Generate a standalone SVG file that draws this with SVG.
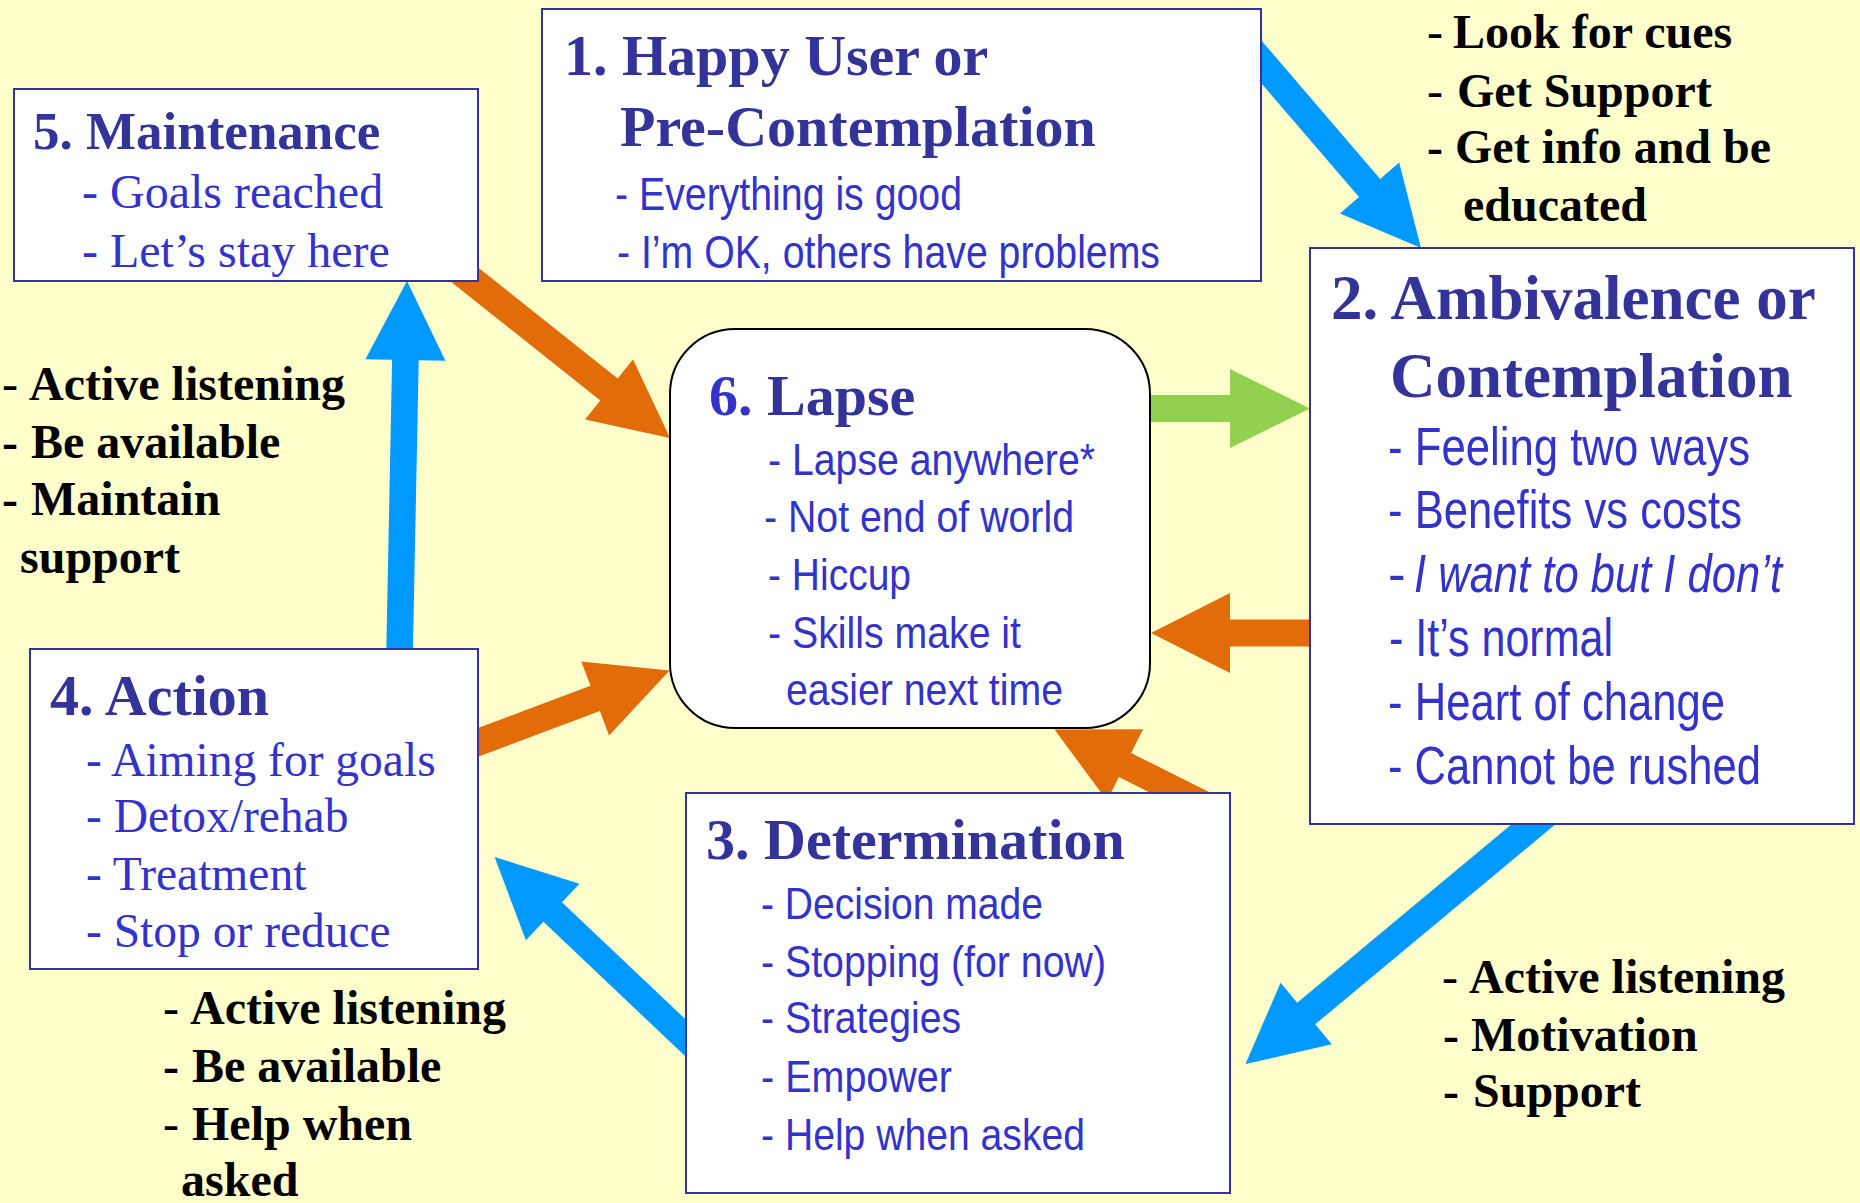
<svg xmlns="http://www.w3.org/2000/svg" width="1860" height="1203" viewBox="0 0 1860 1203">
<style>
.bg{fill:#FFFFCC}
.box{fill:#FFFFFF;stroke:#333399;stroke-width:2}
.lapse{fill:#FFFFFF;stroke:#000000;stroke-width:2}
.title{font-family:"Liberation Serif","Times New Roman",serif;font-weight:bold;fill:#333399}
.item{font-family:"Liberation Serif","Times New Roman",serif;fill:#3333CC}
.sans{font-family:"Liberation Sans",Arial,sans-serif;fill:#3333CC}
.note{font-family:"Liberation Serif","Times New Roman",serif;font-weight:bold;font-size:48px;fill:#000000}
.thin{font-weight:normal}
.blue{fill:#0099FF}
.orange{fill:#E36C0A}
.green{fill:#92D050}
</style>
<rect class="bg" x="0" y="0" width="1860" height="1203"/>

<!-- block arrows between the stages (drawn first so the boxes sit on top) -->
<g id="connectors">
  <polygon id="a1to2" class="blue" points="1229.4,46.1 1359,197.1 1340,213.4 1421,248 1399.2,162.6 1380.2,178.9 1250.6,27.9"/>
  <polygon id="a2to3" class="blue" points="1544,797.2 1297.2,1002.7 1280.6,982.8 1245.5,1064 1331.8,1044.2 1315.2,1024.3 1562,818.8"/>
  <polygon id="a3to4" class="blue" points="721.3,1053.2 562,902.2 579.5,883.7 494.6,857 525.9,940.3 543.4,921.8 702.7,1072.8"/>
  <polygon id="a4to5" class="blue" points="412.3,680.3 418.7,360.3 445.4,360.8 407,281 365.4,359.2 392.1,359.7 385.7,679.7"/>
  <polygon id="a5to6" class="orange" points="403,243.6 600.3,400.4 585,419.5 670,438 633,359.3 617.7,378.4 420.4,221.6"/>
  <polygon id="a4to6" class="orange" points="458.9,763.9 599.9,711 609.1,735.4 669.6,670.5 581.3,661.4 590.5,685.8 449.5,738.7"/>
  <polygon id="a3to6" class="orange" points="1224,799.6 1131.1,752.9 1143,729.3 1054.5,729.5 1107,800.7 1118.9,777.1 1211.8,823.8"/>
  <polygon id="a2to6" class="orange" points="1340,619.5 1230,619.5 1230,593 1151,633 1230,673 1230,646.5 1340,646.5"/>
  <polygon id="a6to2" class="green" points="1120,395 1230,395 1230,369 1310,408.5 1230,448 1230,422 1120,422"/>
</g>

<!-- stage 1 -->
<g id="stage1">
  <rect class="box" x="542" y="9" width="719" height="272"/>
  <text class="title" font-size="58" x="564" y="75">1. Happy User or</text>
  <text class="title" font-size="58" x="620" y="146">Pre-Contemplation</text>
  <text class="sans" font-size="46" x="615" y="210" textLength="347" lengthAdjust="spacingAndGlyphs">- Everything is good</text>
  <text class="sans" font-size="46" x="617" y="268" textLength="543" lengthAdjust="spacingAndGlyphs">- I’m OK, others have problems</text>
</g>

<!-- stage 2 -->
<g id="stage2">
  <rect class="box" x="1310" y="248" width="544" height="576"/>
  <text class="title" font-size="63" x="1331" y="319">2. Ambivalence or</text>
  <text class="title" font-size="63" x="1390" y="397">Contemplation</text>
  <text class="sans" font-size="53" x="1388" y="465" textLength="362" lengthAdjust="spacingAndGlyphs">- Feeling two ways</text>
  <text class="sans" font-size="53" x="1388" y="528" textLength="354" lengthAdjust="spacingAndGlyphs">- Benefits vs costs</text>
  <text class="sans" font-size="53" x="1388" y="592">-</text>
  <text class="sans" font-size="53" x="1414" y="592" font-style="italic" textLength="368" lengthAdjust="spacingAndGlyphs">I want to but I don’t</text>
  <text class="sans" font-size="53" x="1389" y="656" textLength="224" lengthAdjust="spacingAndGlyphs">- It’s normal</text>
  <text class="sans" font-size="53" x="1388" y="720" textLength="337" lengthAdjust="spacingAndGlyphs">- Heart of change</text>
  <text class="sans" font-size="53" x="1388" y="784" textLength="373" lengthAdjust="spacingAndGlyphs">- Cannot be rushed</text>
</g>

<!-- stage 3 -->
<g id="stage3">
  <rect class="box" x="686" y="793" width="544" height="400"/>
  <text class="title" font-size="58" x="706" y="859">3. Determination</text>
  <text class="sans" font-size="45" x="761" y="919" textLength="282" lengthAdjust="spacingAndGlyphs">- Decision made</text>
  <text class="sans" font-size="45" x="761" y="977" textLength="345" lengthAdjust="spacingAndGlyphs">- Stopping (for now)</text>
  <text class="sans" font-size="45" x="761" y="1033" textLength="200" lengthAdjust="spacingAndGlyphs">- Strategies</text>
  <text class="sans" font-size="45" x="761" y="1092" textLength="191" lengthAdjust="spacingAndGlyphs">- Empower</text>
  <text class="sans" font-size="45" x="761" y="1150" textLength="324" lengthAdjust="spacingAndGlyphs">- Help when asked</text>
</g>

<!-- stage 4 -->
<g id="stage4">
  <rect class="box" x="30" y="649" width="448" height="320"/>
  <text class="title" font-size="58" x="50" y="715">4. Action</text>
  <text class="item" font-size="47.5" x="86" y="776">- Aiming for goals</text>
  <text class="item" font-size="47.5" x="86" y="832">- Detox/rehab</text>
  <text class="item" font-size="47.5" x="86" y="890">- Treatment</text>
  <text class="item" font-size="47.5" x="86" y="947">- Stop or reduce</text>
</g>

<!-- stage 5 -->
<g id="stage5">
  <rect class="box" x="14" y="89" width="464" height="192"/>
  <text class="title" font-size="53" x="33" y="149">5. Maintenance</text>
  <text class="item" font-size="48" x="82" y="208">- Goals reached</text>
  <text class="item" font-size="48" x="82" y="267">- Let’s stay here</text>
</g>

<!-- stage 6 -->
<g id="stage6">
  <rect class="lapse" x="670" y="329" width="480" height="399" rx="65" ry="65"/>
  <text class="title" font-size="58" x="709" y="415"><tspan fill="#3333CC">6.</tspan> Lapse</text>
  <text class="sans" font-size="44" x="768" y="475" textLength="327" lengthAdjust="spacingAndGlyphs">- Lapse anywhere*</text>
  <text class="sans" font-size="44" x="764" y="532" textLength="310" lengthAdjust="spacingAndGlyphs">- Not end of world</text>
  <text class="sans" font-size="44" x="768" y="590" textLength="143" lengthAdjust="spacingAndGlyphs">- Hiccup</text>
  <text class="sans" font-size="44" x="768" y="648" textLength="253" lengthAdjust="spacingAndGlyphs">- Skills make it</text>
  <text class="sans" font-size="44" x="786" y="705" textLength="277" lengthAdjust="spacingAndGlyphs">easier next time</text>
</g>

<!-- helper notes beside the arrows -->
<g id="notes-1to2">
  <text class="note" y="48"><tspan class="thin" x="1427">-</tspan><tspan x="1453">Look for cues</tspan></text>
  <text class="note" y="107"><tspan class="thin" x="1427">-</tspan><tspan x="1457">Get Support</tspan></text>
  <text class="note" y="163"><tspan x="1427">-</tspan><tspan x="1455">Get info and be</tspan></text>
  <text class="note" x="1463" y="221">educated</text>
</g>
<g id="notes-4to5">
  <text class="note" y="400"><tspan class="thin" x="2">-</tspan><tspan x="29">Active listening</tspan></text>
  <text class="note" y="458"><tspan x="2">-</tspan><tspan x="31">Be available</tspan></text>
  <text class="note" y="515"><tspan x="2">-</tspan><tspan x="31">Maintain</tspan></text>
  <text class="note" x="20" y="573">support</text>
</g>
<g id="notes-3to4">
  <text class="note" y="1024"><tspan class="thin" x="163">-</tspan><tspan x="190">Active listening</tspan></text>
  <text class="note" y="1082"><tspan x="163">-</tspan><tspan x="192">Be available</tspan></text>
  <text class="note" y="1140"><tspan class="thin" x="163">-</tspan><tspan x="192">Help when</tspan></text>
  <text class="note" x="181" y="1196">asked</text>
</g>
<g id="notes-2to3">
  <text class="note" y="993"><tspan class="thin" x="1442">-</tspan><tspan x="1469">Active listening</tspan></text>
  <text class="note" y="1051"><tspan x="1443">-</tspan><tspan x="1471">Motivation</tspan></text>
  <text class="note" y="1107"><tspan x="1443">-</tspan><tspan x="1473">Support</tspan></text>
</g>
</svg>
